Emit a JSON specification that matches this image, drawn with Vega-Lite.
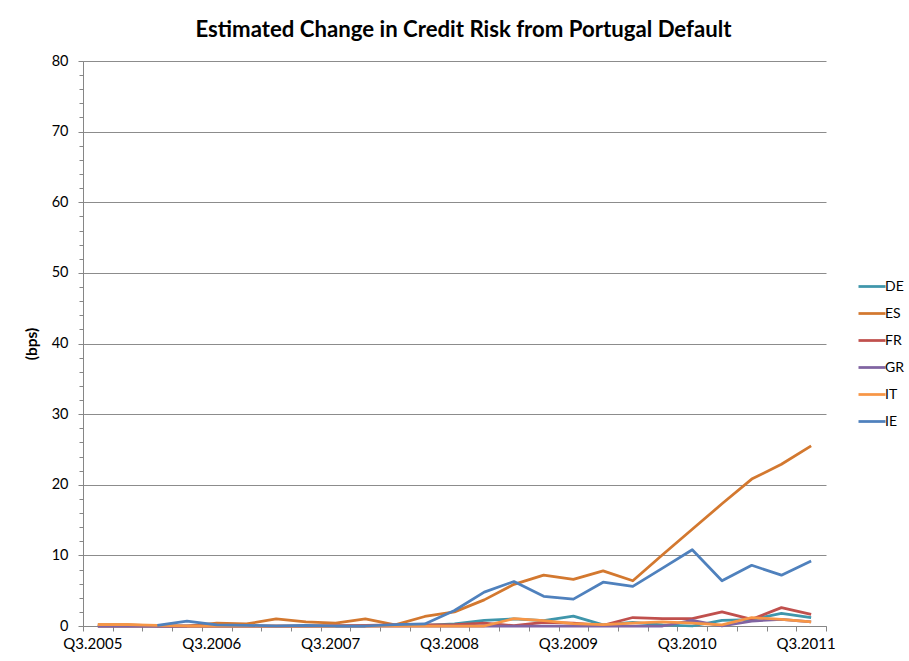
{
  "$schema": "https://vega.github.io/schema/vega-lite/v6.json",
  "width": 743,
  "height": 565,
  "autosize": {"type": "none"},
  "padding": {"left": 83, "top": 61, "right": 83, "bottom": 35},
  "background": "white",
  "title": {
    "text": "Estimated Change in Credit Risk from Portugal Default",
    "font": "Lato",
    "fontSize": 22.2,
    "fontWeight": "bold",
    "color": "#000000",
    "anchor": "middle",
    "dx": 9,
    "offset": 12
  },
  "data": {
    "values": [
      {"q": "Q3.2005", "c": "DE", "v": 0}, {"q": "Q4.2005", "c": "DE", "v": 0}, {"q": "Q1.2006", "c": "DE", "v": 0}, {"q": "Q2.2006", "c": "DE", "v": 0}, {"q": "Q3.2006", "c": "DE", "v": 0}, {"q": "Q4.2006", "c": "DE", "v": 0}, {"q": "Q1.2007", "c": "DE", "v": 0}, {"q": "Q2.2007", "c": "DE", "v": 0}, {"q": "Q3.2007", "c": "DE", "v": 0}, {"q": "Q4.2007", "c": "DE", "v": 0}, {"q": "Q1.2008", "c": "DE", "v": 0.1}, {"q": "Q2.2008", "c": "DE", "v": 0.1}, {"q": "Q3.2008", "c": "DE", "v": 0.3}, {"q": "Q4.2008", "c": "DE", "v": 0.8}, {"q": "Q1.2009", "c": "DE", "v": 1.0}, {"q": "Q2.2009", "c": "DE", "v": 0.75}, {"q": "Q3.2009", "c": "DE", "v": 1.4}, {"q": "Q4.2009", "c": "DE", "v": 0.15}, {"q": "Q1.2010", "c": "DE", "v": 0.5}, {"q": "Q2.2010", "c": "DE", "v": 0.15}, {"q": "Q3.2010", "c": "DE", "v": 0.0}, {"q": "Q4.2010", "c": "DE", "v": 0.8}, {"q": "Q1.2011", "c": "DE", "v": 0.9}, {"q": "Q2.2011", "c": "DE", "v": 1.8}, {"q": "Q3.2011", "c": "DE", "v": 1.2},
      {"q": "Q3.2005", "c": "ES", "v": 0.2}, {"q": "Q4.2005", "c": "ES", "v": 0.2}, {"q": "Q1.2006", "c": "ES", "v": 0.0}, {"q": "Q2.2006", "c": "ES", "v": 0.0}, {"q": "Q3.2006", "c": "ES", "v": 0.4}, {"q": "Q4.2006", "c": "ES", "v": 0.3}, {"q": "Q1.2007", "c": "ES", "v": 1.0}, {"q": "Q2.2007", "c": "ES", "v": 0.6}, {"q": "Q3.2007", "c": "ES", "v": 0.4}, {"q": "Q4.2007", "c": "ES", "v": 1.0}, {"q": "Q1.2008", "c": "ES", "v": 0.15}, {"q": "Q2.2008", "c": "ES", "v": 1.35}, {"q": "Q3.2008", "c": "ES", "v": 2.0}, {"q": "Q4.2008", "c": "ES", "v": 3.7}, {"q": "Q1.2009", "c": "ES", "v": 5.9}, {"q": "Q2.2009", "c": "ES", "v": 7.2}, {"q": "Q3.2009", "c": "ES", "v": 6.6}, {"q": "Q4.2009", "c": "ES", "v": 7.8}, {"q": "Q1.2010", "c": "ES", "v": 6.4}, {"q": "Q2.2010", "c": "ES", "v": 10.1}, {"q": "Q3.2010", "c": "ES", "v": 13.7}, {"q": "Q4.2010", "c": "ES", "v": 17.3}, {"q": "Q1.2011", "c": "ES", "v": 20.8}, {"q": "Q2.2011", "c": "ES", "v": 22.9}, {"q": "Q3.2011", "c": "ES", "v": 25.5},
      {"q": "Q3.2005", "c": "FR", "v": 0}, {"q": "Q4.2005", "c": "FR", "v": 0}, {"q": "Q1.2006", "c": "FR", "v": 0}, {"q": "Q2.2006", "c": "FR", "v": 0}, {"q": "Q3.2006", "c": "FR", "v": 0}, {"q": "Q4.2006", "c": "FR", "v": 0}, {"q": "Q1.2007", "c": "FR", "v": 0}, {"q": "Q2.2007", "c": "FR", "v": 0}, {"q": "Q3.2007", "c": "FR", "v": 0.05}, {"q": "Q4.2007", "c": "FR", "v": 0.1}, {"q": "Q1.2008", "c": "FR", "v": 0.15}, {"q": "Q2.2008", "c": "FR", "v": 0.15}, {"q": "Q3.2008", "c": "FR", "v": 0.2}, {"q": "Q4.2008", "c": "FR", "v": 0.4}, {"q": "Q1.2009", "c": "FR", "v": 0.05}, {"q": "Q2.2009", "c": "FR", "v": 0.5}, {"q": "Q3.2009", "c": "FR", "v": 0.4}, {"q": "Q4.2009", "c": "FR", "v": 0.1}, {"q": "Q1.2010", "c": "FR", "v": 1.2}, {"q": "Q2.2010", "c": "FR", "v": 1.05}, {"q": "Q3.2010", "c": "FR", "v": 1.05}, {"q": "Q4.2010", "c": "FR", "v": 2.0}, {"q": "Q1.2011", "c": "FR", "v": 0.95}, {"q": "Q2.2011", "c": "FR", "v": 2.6}, {"q": "Q3.2011", "c": "FR", "v": 1.65},
      {"q": "Q3.2005", "c": "GR", "v": 0}, {"q": "Q4.2005", "c": "GR", "v": 0}, {"q": "Q1.2006", "c": "GR", "v": 0}, {"q": "Q2.2006", "c": "GR", "v": 0}, {"q": "Q3.2006", "c": "GR", "v": 0}, {"q": "Q4.2006", "c": "GR", "v": 0}, {"q": "Q1.2007", "c": "GR", "v": 0}, {"q": "Q2.2007", "c": "GR", "v": 0}, {"q": "Q3.2007", "c": "GR", "v": 0}, {"q": "Q4.2007", "c": "GR", "v": 0}, {"q": "Q1.2008", "c": "GR", "v": 0}, {"q": "Q2.2008", "c": "GR", "v": 0}, {"q": "Q3.2008", "c": "GR", "v": 0}, {"q": "Q4.2008", "c": "GR", "v": 0}, {"q": "Q1.2009", "c": "GR", "v": 0}, {"q": "Q2.2009", "c": "GR", "v": 0}, {"q": "Q3.2009", "c": "GR", "v": 0}, {"q": "Q4.2009", "c": "GR", "v": 0}, {"q": "Q1.2010", "c": "GR", "v": 0}, {"q": "Q2.2010", "c": "GR", "v": 0}, {"q": "Q3.2010", "c": "GR", "v": 0.8}, {"q": "Q4.2010", "c": "GR", "v": 0}, {"q": "Q1.2011", "c": "GR", "v": 0.7}, {"q": "Q2.2011", "c": "GR", "v": 0.95}, {"q": "Q3.2011", "c": "GR", "v": 0.6},
      {"q": "Q3.2005", "c": "IT", "v": 0.2}, {"q": "Q4.2005", "c": "IT", "v": 0.2}, {"q": "Q1.2006", "c": "IT", "v": 0.1}, {"q": "Q2.2006", "c": "IT", "v": 0}, {"q": "Q3.2006", "c": "IT", "v": 0}, {"q": "Q4.2006", "c": "IT", "v": 0}, {"q": "Q1.2007", "c": "IT", "v": 0}, {"q": "Q2.2007", "c": "IT", "v": 0}, {"q": "Q3.2007", "c": "IT", "v": 0}, {"q": "Q4.2007", "c": "IT", "v": 0}, {"q": "Q1.2008", "c": "IT", "v": 0}, {"q": "Q2.2008", "c": "IT", "v": 0}, {"q": "Q3.2008", "c": "IT", "v": 0}, {"q": "Q4.2008", "c": "IT", "v": 0}, {"q": "Q1.2009", "c": "IT", "v": 1.05}, {"q": "Q2.2009", "c": "IT", "v": 0.75}, {"q": "Q3.2009", "c": "IT", "v": 0.35}, {"q": "Q4.2009", "c": "IT", "v": 0.2}, {"q": "Q1.2010", "c": "IT", "v": 0.4}, {"q": "Q2.2010", "c": "IT", "v": 0.6}, {"q": "Q3.2010", "c": "IT", "v": 0.4}, {"q": "Q4.2010", "c": "IT", "v": 0.15}, {"q": "Q1.2011", "c": "IT", "v": 1.2}, {"q": "Q2.2011", "c": "IT", "v": 0.95}, {"q": "Q3.2011", "c": "IT", "v": 0.6},
      {"q": "Q1.2006", "c": "IE", "v": 0.1}, {"q": "Q2.2006", "c": "IE", "v": 0.7}, {"q": "Q3.2006", "c": "IE", "v": 0.15}, {"q": "Q4.2006", "c": "IE", "v": 0.1}, {"q": "Q1.2007", "c": "IE", "v": 0.0}, {"q": "Q2.2007", "c": "IE", "v": 0.1}, {"q": "Q3.2007", "c": "IE", "v": 0.0}, {"q": "Q4.2007", "c": "IE", "v": 0.0}, {"q": "Q1.2008", "c": "IE", "v": 0.2}, {"q": "Q2.2008", "c": "IE", "v": 0.3}, {"q": "Q3.2008", "c": "IE", "v": 2.2}, {"q": "Q4.2008", "c": "IE", "v": 4.8}, {"q": "Q1.2009", "c": "IE", "v": 6.3}, {"q": "Q2.2009", "c": "IE", "v": 4.2}, {"q": "Q3.2009", "c": "IE", "v": 3.8}, {"q": "Q4.2009", "c": "IE", "v": 6.2}, {"q": "Q1.2010", "c": "IE", "v": 5.6}, {"q": "Q2.2010", "c": "IE", "v": 8.2}, {"q": "Q3.2010", "c": "IE", "v": 10.8}, {"q": "Q4.2010", "c": "IE", "v": 6.4}, {"q": "Q1.2011", "c": "IE", "v": 8.6}, {"q": "Q2.2011", "c": "IE", "v": 7.2}, {"q": "Q3.2011", "c": "IE", "v": 9.2}
    ]
  },
  "layer": [
    {
      "mark": {"type": "line", "strokeOpacity": 0},
      "encoding": {
        "x": {"field": "q", "type": "ordinal", "sort": null, "scale": {"type": "band", "paddingInner": 0, "paddingOuter": 0}},
        "y": {
          "field": "v",
          "type": "quantitative",
          "scale": {"domain": [0, 80], "nice": false, "zero": true},
          "axis": {
            "orient": "left",
            "title": null,
            "values": [0, 2, 4, 6, 8, 10, 12, 14, 16, 18, 20, 22, 24, 26, 28, 30, 32, 34, 36, 38, 40, 42, 44, 46, 48, 50, 52, 54, 56, 58, 60, 62, 64, 66, 68, 70, 72, 74, 76, 78, 80],
            "labels": false,
            "grid": false,
            "domain": false,
            "tickSize": 4,
            "tickColor": "#868686"
          }
        },
        "detail": {"field": "c"}
      }
    },
    {
      "mark": {"type": "line", "strokeWidth": 2.75, "strokeJoin": "round"},
      "encoding": {
        "x": {
          "field": "q",
          "type": "ordinal",
          "sort": null,
          "scale": {"type": "band", "paddingInner": 0, "paddingOuter": 0},
          "axis": {
            "title": null,
            "labelAngle": 0,
            "labelOverlap": false,
            "labelExpr": "indexof('' + datum.value, 'Q3') == 0 ? '' + datum.value : ''",
            "tickBand": "extent",
            "labelOffset": 24,
            "grid": false,
            "tickSize": 5,
            "tickColor": "#868686",
            "domainColor": "#868686",
            "labelFont": "Lato",
            "labelFontSize": 15,
            "labelColor": "#000000",
            "labelPadding": 12
          }
        },
        "y": {
          "field": "v",
          "type": "quantitative",
          "scale": {"domain": [0, 80], "nice": false, "zero": true},
          "axis": {
            "orient": "left",
            "title": "(bps)",
            "titleFont": "Lato",
            "titleFontSize": 15.5,
            "titleFontWeight": "bold",
            "titleColor": "#000000",
            "titlePadding": 12,
            "values": [0, 10, 20, 30, 40, 50, 60, 70, 80],
            "grid": true,
            "gridColor": "#8c8c8c",
            "gridWidth": 1,
            "tickSize": 5,
            "tickColor": "#868686",
            "domainColor": "#868686",
            "labelFont": "Lato",
            "labelFontSize": 14.5,
            "labelColor": "#000000",
            "labelPadding": 10
          }
        },
        "color": {
          "field": "c",
          "type": "nominal",
          "scale": {
            "domain": ["DE", "ES", "FR", "GR", "IT", "IE"],
            "range": ["#3f96ab", "#d3782f", "#c0504d", "#8064a2", "#f79646", "#4f81bd"]
          },
          "legend": {
            "title": null,
            "orient": "none",
            "legendX": 774,
            "legendY": 210.5,
            "symbolType": "stroke",
            "symbolSize": 729,
            "symbolStrokeWidth": 2.75,
            "rowPadding": 5.0,
            "labelOffset": -2,
            "labelFont": "Lato",
            "labelFontSize": 14,
            "labelColor": "#000000",
            "padding": 0
          }
        }
      }
    }
  ],
  "resolve": {"axis": {"y": "independent"}},
  "config": {
    "view": {"stroke": null}
  }
}
